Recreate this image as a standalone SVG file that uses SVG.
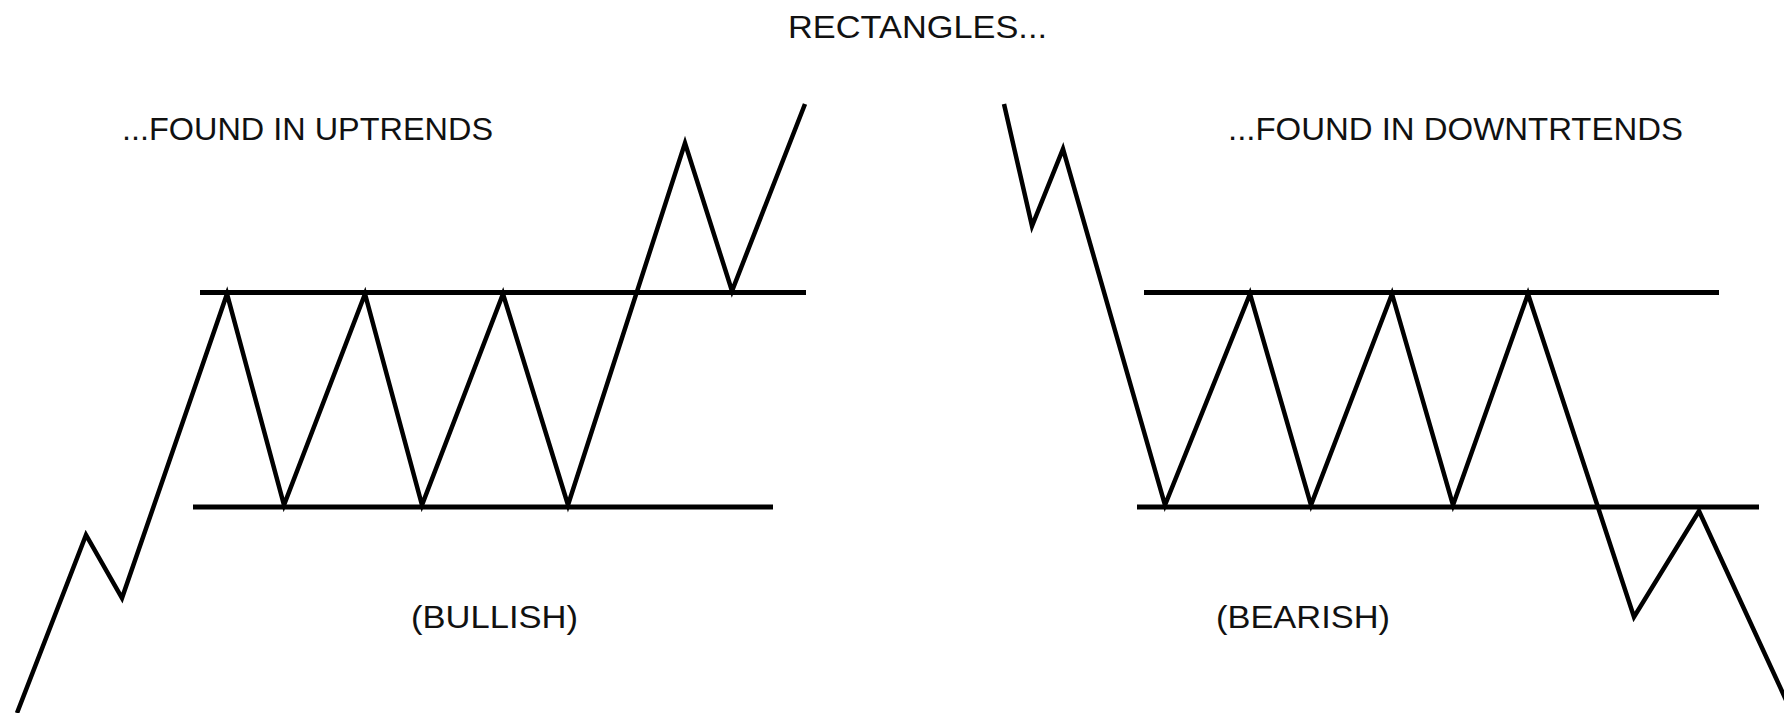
<svg xmlns="http://www.w3.org/2000/svg" width="1784" height="713" viewBox="0 0 1784 713">
<style>
.bg{fill:#ffffff}
.lvl{stroke:#000;stroke-width:5;fill:none}
.price{stroke:#000;stroke-width:4.5;fill:none;stroke-linejoin:miter;stroke-miterlimit:10}
.lbl{font-family:"Liberation Sans",Arial,sans-serif;font-size:32px;fill:#111}
</style>
<rect class="bg" x="0" y="0" width="1784" height="713"/>
<g id="title"><text class="lbl" x="788" y="38" textLength="259" lengthAdjust="spacingAndGlyphs">RECTANGLES...</text></g>
<g id="uptrend">
<text class="lbl" x="122" y="140" textLength="371" lengthAdjust="spacingAndGlyphs">...FOUND IN UPTRENDS</text>
<text class="lbl" x="411" y="628" textLength="167" lengthAdjust="spacingAndGlyphs">(BULLISH)</text>
</g>
<g id="downtrend">
<text class="lbl" x="1228" y="140" textLength="455" lengthAdjust="spacingAndGlyphs">...FOUND IN DOWNTRTENDS</text>
<text class="lbl" x="1216" y="628" textLength="174" lengthAdjust="spacingAndGlyphs">(BEARISH)</text>
</g>
<g id="connectors">
<line class="lvl" x1="200" y1="292.5" x2="806" y2="292.5"/>
<line class="lvl" x1="193" y1="507" x2="773" y2="507"/>
<polyline class="price" points="17,713 86,535 122,598 227,294 284,505 365,294 422,505 503,294 568,505 685,143 732,291 805,104"/>
<line class="lvl" x1="1144" y1="292.5" x2="1719" y2="292.5"/>
<line class="lvl" x1="1137" y1="507" x2="1759" y2="507"/>
<polyline class="price" points="1004,104 1032,226 1063,149 1165,505 1250,294 1311,505 1392,294 1453,505 1528,294 1634,617 1699,511 1786,700"/>
</g>
</svg>
